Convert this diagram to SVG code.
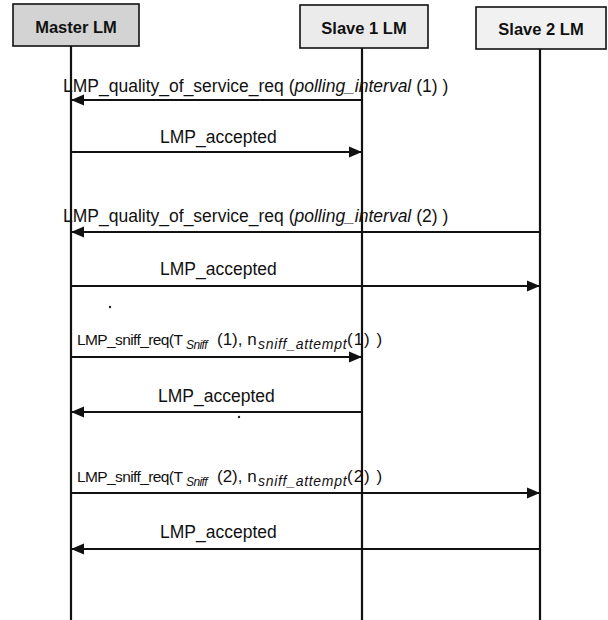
<svg xmlns="http://www.w3.org/2000/svg" width="608" height="620" viewBox="0 0 608 620">
<style>
.box{stroke:#111;stroke-width:1.6}
.lbl{font-family:"Liberation Sans",Arial,sans-serif;font-weight:bold;font-size:16.5px;fill:#111;text-anchor:middle}
.life{stroke:#111;stroke-width:2.2}
.msg{stroke:#111;stroke-width:2.2;fill:none;marker-end:url(#ah)}
.t{font-family:"Liberation Sans",Arial,sans-serif;font-size:17.5px;fill:#111}
.ts{font-family:"Liberation Sans",Arial,sans-serif;font-size:17px;fill:#111}
.m{font-size:15.5px;letter-spacing:-0.6px}
.s1{font-size:12px;font-style:italic;letter-spacing:-0.6px}
.s2{font-size:14px;font-style:italic;letter-spacing:0.7px}
.e{letter-spacing:1px}
.it{font-style:italic}
</style>
<defs>
<marker id="ah" markerUnits="userSpaceOnUse" markerWidth="14" markerHeight="12" refX="13" refY="6" orient="auto">
<path d="M0,0.5 L13,6 L0,11.5 Z" fill="#111"/>
</marker>
</defs>
<rect width="608" height="620" fill="#fff"/>
<g id="master">
<rect class="box" x="13" y="4" width="126" height="42" fill="#d3d3d3"/>
<text class="lbl" x="76" y="33">Master LM</text>
<line class="life" x1="71" y1="46" x2="71" y2="620"/>
</g>
<g id="slave1">
<rect class="box" x="300" y="5" width="128" height="43" fill="#ebebeb"/>
<text class="lbl" x="364" y="34">Slave 1 LM</text>
<line class="life" x1="362" y1="48" x2="362" y2="620"/>
</g>
<g id="slave2">
<rect class="box" x="476" y="7" width="130" height="42" fill="#f1f1f1"/>
<text class="lbl" x="541" y="35">Slave 2 LM</text>
<line class="life" x1="540" y1="49" x2="540" y2="620"/>
</g>
<g id="connectors">
<line class="msg" x1="362" y1="100" x2="71" y2="100"/>
<line class="msg" x1="71" y1="152" x2="362" y2="152"/>
<line class="msg" x1="540" y1="232" x2="71" y2="232"/>
<line class="msg" x1="71" y1="286" x2="540" y2="286"/>
<line class="msg" x1="71" y1="357" x2="362" y2="357"/>
<line class="msg" x1="362" y1="412" x2="71" y2="412"/>
<line class="msg" x1="71" y1="493" x2="540" y2="493"/>
<line class="msg" x1="540" y1="549" x2="71" y2="549"/>
</g>
<g id="labels">
<text class="t" x="63" y="92">LMP_quality_of_service_req (<tspan class="it">polling_interval</tspan> (1) )</text>
<text class="t" x="160" y="143">LMP_accepted</text>
<text class="t" x="63" y="222">LMP_quality_of_service_req (<tspan class="it">polling_interval</tspan> (2) )</text>
<text class="t" x="160" y="275">LMP_accepted</text>
<text class="ts" y="345"><tspan class="m" x="77">LMP_sniff_req(T</tspan><tspan class="s1" x="186" y="349">Sniff</tspan><tspan x="217" y="345">(1), n</tspan><tspan class="s2" x="258" y="349">sniff_attempt</tspan><tspan class="e" x="347" y="345">(1) )</tspan></text>
<text class="t" x="158" y="402">LMP_accepted</text>
<text class="ts" y="482"><tspan class="m" x="77">LMP_sniff_req(T</tspan><tspan class="s1" x="186" y="486">Sniff</tspan><tspan x="217" y="482">(2), n</tspan><tspan class="s2" x="258" y="486">sniff_attempt</tspan><tspan class="e" x="347" y="482">(2) )</tspan></text>
<text class="t" x="160" y="538">LMP_accepted</text>
</g>
<circle cx="110" cy="307" r="1.2" fill="#222"/>
<circle cx="239" cy="417" r="1.2" fill="#222"/>
</svg>
